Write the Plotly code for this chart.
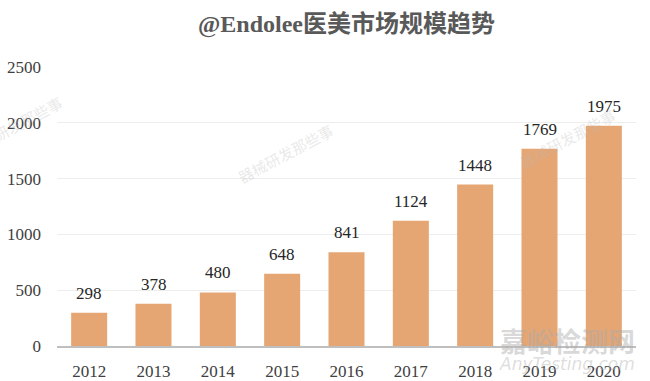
import plotly.graph_objects as go

years = ["2012", "2013", "2014", "2015", "2016", "2017", "2018", "2019", "2020"]
values = [298, 378, 480, 648, 841, 1124, 1448, 1769, 1975]
title_text = "@Endolee医美市场规模趋势"
y_ticks = [0, 500, 1000, 1500, 2000, 2500]

serif = "Liberation Serif, Times New Roman, Noto Sans CJK SC, serif"

W, H = 650, 381
L, T, R, B = 57, 67, 14, 35
PH = H - T - B

fig = go.Figure()
fig.add_trace(go.Bar(
    x=years, y=values,
    marker=dict(color="#E6A674", line=dict(width=0)),
    hoverinfo="x+y",
))

for i, v in enumerate(values):
    fig.add_annotation(x=i, y=v, xref="x", yref="y", text=str(v), showarrow=False,
                       yanchor="bottom", yshift=8,
                       font=dict(family=serif, size=17, color="#262626"))

# title
fig.add_annotation(x=0.5, y=1 + (T - 24) / PH, xref="paper", yref="paper",
                   text="<b>" + title_text + "</b>", showarrow=False,
                   xanchor="center", yanchor="middle",
                   font=dict(family="Liberation Serif, Noto Sans CJK SC, serif", size=24, color="#595959"))

# watermarks
wm = "器械研发那些事"
for (x, y) in [(-0.073, 0.79), (0.394, 0.69), (0.881, 0.745)]:
    fig.add_annotation(x=x, y=y, xref="paper", yref="paper", text=wm,
                       showarrow=False, textangle=-28, xanchor="center", yanchor="middle",
                       font=dict(family="Noto Sans CJK SC", size=15, color="rgba(185,185,185,0.32)"))
fig.add_annotation(x=1.002, y=0.0215, xref="paper", yref="paper", text="<b>嘉峪检测网</b>",
                   showarrow=False, xanchor="right", yanchor="middle",
                   font=dict(family="Noto Sans CJK SC", size=27, color="rgba(170,170,170,0.45)"))
fig.add_annotation(x=1.002, y=-0.0645, xref="paper", yref="paper", text="<i>AnyTesting.com</i>",
                   showarrow=False, xanchor="right", yanchor="middle",
                   font=dict(family="DejaVu Sans", size=17, color="rgba(180,180,180,0.45)"))

fig.update_layout(
    width=W, height=H,
    margin=dict(l=L, r=R, t=T, b=B, autoexpand=False),
    paper_bgcolor="white", plot_bgcolor="white",
    bargap=0.44,
    showlegend=False,
    xaxis=dict(type="category", range=[-0.5, len(years) - 0.5], showgrid=False,
               showline=True, linecolor="#BFBFBF", linewidth=2, automargin=False,
               ticks="", ticklabelstandoff=9,
               tickfont=dict(family=serif, size=17, color="#404040")),
    yaxis=dict(range=[0, 2502], tickvals=y_ticks, showgrid=True, gridcolor="#EDEDED",
               gridwidth=1, zeroline=False, showline=False, ticks="", automargin=False,
               ticklabelstandoff=15,
               tickfont=dict(family=serif, size=17, color="#404040")),
)

fig.write_html("out.html", config={"displayModeBar": False},
               post_script="document.body.style.margin='0';document.body.style.overflow='hidden';")
